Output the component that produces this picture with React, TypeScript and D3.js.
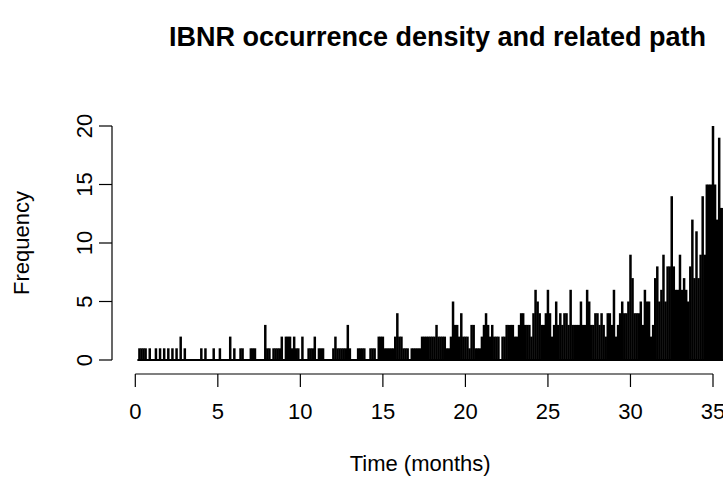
import React from "react";
import * as d3 from "d3";

const TITLE = "IBNR occurrence density and related path";
const X_LABEL = "Time (months)";
const Y_LABEL = "Frequency";
const X_TICKS = [0, 5, 10, 15, 20, 25, 30, 35];
const Y_TICKS = [0, 5, 10, 15, 20];

// counts per 1/8-month bin
const BIN_MONTHS = 0.125;
const counts0to5 = [0,0,1,1,1,1,0,1,0,0, 1,0,1,0,1,0,1,0,1,0, 1,0,2,0,1,0,0,0,0,0, 0,0,1,0,1,0,0,0,1,0];
const counts5to10 = [0,1,0,0,0,0,2,0,1,0, 0,1,1,0,0,0,1,1,1,0, 0,0,0,3,1,1,0,1,1,1, 1,2,0,2,2,2,1,2,1,1];
const counts10to15 = [0,2,0,0,1,1,1,2,0,1, 1,1,0,0,0,0,1,2,1,1, 1,1,1,3,1,0,0,0,1,1, 1,1,0,0,1,1,1,0,2,2];
const counts15to20 = [2,1,1,1,1,1,2,4,2,2, 1,1,1,0,1,1,1,1,1,2, 2,2,2,2,2,2,3,2,2,2, 2,1,1,2,5,3,3,2,4,2];
const counts20to25 = [2,2,1,3,3,1,1,1,2,3, 4,3,2,3,2,2,2,0,2,2, 3,3,3,3,2,2,3,4,4,3, 3,3,2,4,6,5,4,3,3,4];
const counts25to30 = [6,4,2,3,5,3,4,3,4,4, 3,6,3,3,3,3,5,3,3,6, 5,3,3,4,4,3,4,3,2,4, 4,3,6,2,3,4,5,4,4,5];
const counts30to35 = [9,7,4,4,4,5,3,6,5,5, 2,3,7,8,5,6,9,5,8,8, 14,8,6,6,9,6,7,6,5,8, 12,7,11,7,9,14,9,15,15,15];
const counts35on = [20,15,12,19,13,13];

const segments = [
  { start: 0, counts: counts0to5 },
  { start: 5, counts: counts5to10 },
  { start: 10, counts: counts10to15 },
  { start: 15, counts: counts15to20 },
  { start: 20, counts: counts20to25 },
  { start: 25, counts: counts25to30 },
  { start: 30, counts: counts30to35 },
  { start: 35, counts: counts35on },
];

const FONT = "'Liberation Sans', Arial, Helvetica, sans-serif";

export default function App() {
  const W = 723;
  const H = 482;
  const x = d3.scaleLinear().domain([0, 35]).range([135.3, 713]);
  const y = d3.scaleLinear().domain([0, 20]).range([360, 126]);
  const pts = segments.flatMap((s) =>
    s.counts.map((c, i) => ({ t: s.start + i * BIN_MONTHS, c }))
  );
  const lastT = pts[pts.length - 1].t;
  const axisY = 374;
  const axisX = 112;
  const tick = 13;
  return (
    <svg
      width={W}
      height={H}
      style={{ position: "absolute", left: 0, top: 0, background: "#fff" }}
      fontFamily={FONT}
    >
      <rect x={0} y={0} width={W} height={H} fill="#fff" />
      <text x={437.5} y={46} textAnchor="middle" fontSize={27} fontWeight="bold">
        {TITLE}
      </text>
      {/* baseline from zero-height spikes */}
      <line x1={x(BIN_MONTHS)} x2={x(lastT)} y1={y(0)} y2={y(0)} stroke="#000" strokeWidth={2} />
      {pts.filter((p) => p.c > 0).map((p, i) => (
        <line
          key={i}
          x1={x(p.t)}
          x2={x(p.t)}
          y1={y(0)}
          y2={y(p.c)}
          stroke="#000"
          strokeWidth={2.5}
        />
      ))}
      {/* x axis */}
      <line x1={x(0)} x2={x(35)} y1={axisY} y2={axisY} stroke="#000" strokeWidth={1.2} />
      {X_TICKS.map((v) => (
        <g key={v}>
          <line x1={x(v)} x2={x(v)} y1={axisY} y2={axisY + tick} stroke="#000" strokeWidth={1.2} />
          <text x={x(v)} y={419} textAnchor="middle" fontSize={22}>
            {v}
          </text>
        </g>
      ))}
      <text x={x(17.5) - 4} y={471} textAnchor="middle" fontSize={22}>
        {X_LABEL}
      </text>
      {/* y axis */}
      <line x1={axisX} x2={axisX} y1={y(0)} y2={y(20)} stroke="#000" strokeWidth={1.2} />
      {Y_TICKS.map((v) => (
        <g key={v}>
          <line x1={axisX - tick} x2={axisX} y1={y(v)} y2={y(v)} stroke="#000" strokeWidth={1.2} />
          <text
            transform={`translate(92,${y(v)}) rotate(-90)`}
            textAnchor="middle"
            fontSize={22}
          >
            {v}
          </text>
        </g>
      ))}
      <text
        transform={`translate(29,${y(10)}) rotate(-90)`}
        textAnchor="middle"
        fontSize={22}
      >
        {Y_LABEL}
      </text>
    </svg>
  );
}
